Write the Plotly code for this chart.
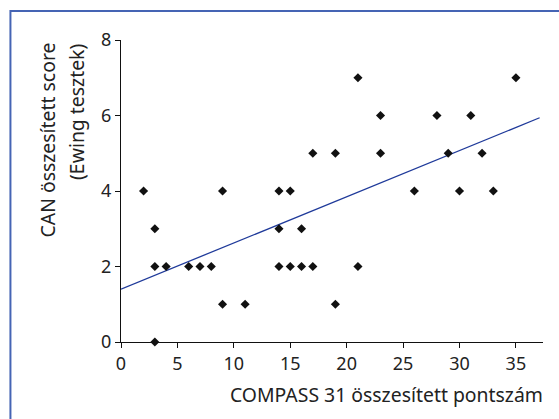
import plotly.graph_objects as go

# Data
compass = [2, 3, 3, 3, 4, 6, 7, 8, 9, 9, 11, 14, 14, 14, 15, 15, 16, 16, 17, 17,
           19, 19, 21, 21, 23, 23, 26, 28, 29, 30, 31, 32, 33, 35]
can_score = [4, 3, 2, 0, 2, 2, 2, 2, 4, 1, 1, 4, 3, 2, 4, 2, 3, 2, 5, 2,
             5, 1, 7, 2, 6, 5, 4, 6, 5, 4, 6, 5, 4, 7]

fit_intercept = 1.40
fit_slope = 0.1224
fit_x = [0, 37.1]
fit_y = [fit_intercept + fit_slope * v for v in fit_x]

x_ticks = [0, 5, 10, 15, 20, 25, 30, 35]
y_ticks = [0, 2, 4, 6, 8]

FONT = "Noto Sans"

fig = go.Figure()
fig.add_trace(go.Scatter(x=fit_x, y=fit_y, mode="lines",
                         line=dict(color="#1f3a9a", width=1.3),
                         hoverinfo="skip", showlegend=False))
fig.add_trace(go.Scatter(x=compass, y=can_score, mode="markers",
                         marker=dict(symbol="diamond", size=7, color="#111111"),
                         cliponaxis=False, showlegend=False))

fig.update_layout(
    width=559, height=419,
    margin=dict(l=121, r=16, t=40, b=77),
    paper_bgcolor="white", plot_bgcolor="white",
    font=dict(family=FONT, size=18, color="#222222"),
    xaxis=dict(range=[0, 37.4], tickvals=x_ticks, showgrid=False, zeroline=False,
               showline=True, linecolor="#111111", linewidth=1.3,
               ticks="outside", ticklen=5, tickcolor="#111111", tickwidth=1.3,
               tickfont=dict(size=18)),
    yaxis=dict(range=[0, 8], tickvals=y_ticks, showgrid=False, zeroline=False,
               showline=True, linecolor="#111111", linewidth=1.3,
               ticks="outside", ticklen=5, tickcolor="#111111", tickwidth=1.3,
               tickfont=dict(size=18)),
    shapes=[dict(type="rect", xref="paper", yref="paper",
                 x0=-0.262, x1=1.2, y0=-0.5, y1=1.096,
                 line=dict(color="#4564b4", width=2), fillcolor="rgba(0,0,0,0)",
                 layer="below")],
    annotations=[
        dict(text="COMPASS 31 összesített pontszám", xref="paper", yref="paper",
             x=1.005, y=-0.174, xanchor="right", yanchor="middle", showarrow=False,
             font=dict(size=19.4)),
        dict(text="CAN összesített score", xref="paper", yref="paper",
             x=-0.173, y=1.0, xanchor="center", yanchor="top", textangle=-90,
             showarrow=False, font=dict(size=19.4)),
        dict(text="(Ewing tesztek)", xref="paper", yref="paper",
             x=-0.107, y=0.993, xanchor="center", yanchor="top", textangle=-90,
             showarrow=False, font=dict(size=19.4)),
    ],
)

fig.write_html("out.html", config={"displayModeBar": False},
               post_script="document.body.style.margin='0';document.body.style.overflow='hidden';")
